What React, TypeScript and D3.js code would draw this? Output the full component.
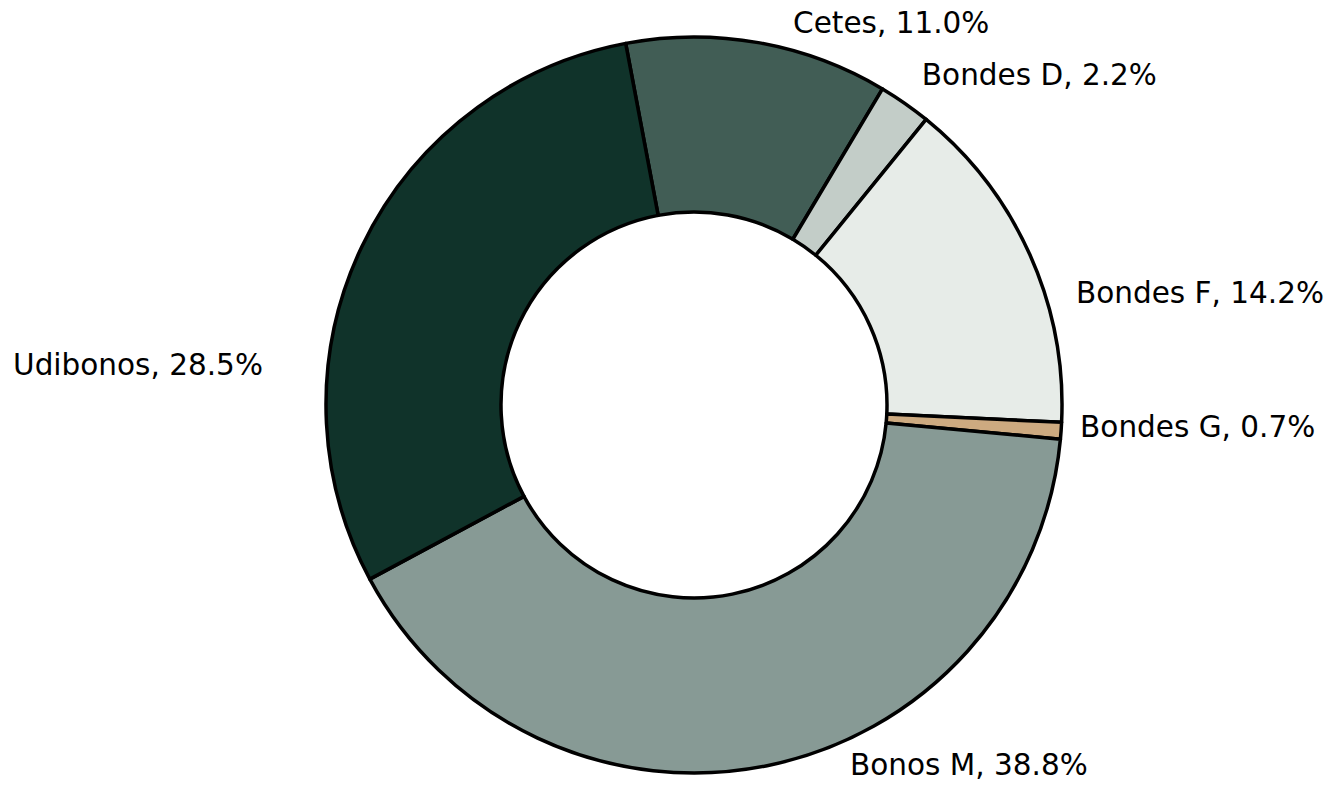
import React from "react";
import * as d3 from "d3";

const categories = ["Cetes", "Bondes D", "Bondes F", "Bondes G", "Bonos M", "Udibonos"];
const values = [11.0, 2.2, 14.2, 0.7, 38.8, 28.5];
const labels = ["Cetes, 11.0%", "Bondes D, 2.2%", "Bondes F, 14.2%", "Bondes G, 0.7%", "Bonos M, 38.8%", "Udibonos, 28.5%"];
const colors = ["#415D55", "#C3CDC8", "#E7ECE8", "#CDAA80", "#879A95", "#10332A"];

// label layout: offset from slice's outer mid-point, and anchor
const labelLayout = [
  { anchor: "middle", dx: 133, dy: -10 },
  { anchor: "start", dx: 17, dy: -18 },
  { anchor: "start", dx: 46, dy: 48 },
  { anchor: "start", dx: 19, dy: 6 },
  { anchor: "start", dx: 83, dy: 9 },
  { anchor: "end", dx: 99, dy: 129 },
];

const W = 1325;
const H = 790;
const cx = 694;
const cy = 405;
const R = 368;
const r0 = 193;

export default function App() {
  const data = categories.map((c, i) => ({ c, v: values[i], i }));
  const pie = d3
    .pie<any>()
    .sort(null)
    .value((d) => d.v)
    .startAngle((-10.7 * Math.PI) / 180)
    .endAngle((-10.7 * Math.PI) / 180 + 2 * Math.PI);
  const arcs = pie(data);
  const arc = d3.arc<any>().innerRadius(r0).outerRadius(R);
  return (
    <svg width={W} height={H} style={{ position: "absolute", left: 0, top: 0 }}>
      <rect width={W} height={H} fill="#fff" />
      <g transform={`translate(${cx},${cy})`}>
        {arcs.map((a, i) => (
          <path key={i} d={arc(a) || ""} fill={colors[i]} stroke="#000" strokeWidth={3.5} strokeLinejoin="round" />
        ))}
        {arcs.map((a, i) => {
          const m = (a.startAngle + a.endAngle) / 2;
          const px = R * Math.sin(m);
          const py = -R * Math.cos(m);
          const L = labelLayout[i];
          const x = L.anchor === "end" ? px - L.dx : px + L.dx;
          return (
            <text
              key={"t" + i}
              x={x}
              y={py + L.dy}
              textAnchor={L.anchor as any}
              fontFamily="'DejaVu Sans', sans-serif"
              fontSize={29.5}
              fill="#000"
            >
              {labels[i]}
            </text>
          );
        })}
      </g>
    </svg>
  );
}
